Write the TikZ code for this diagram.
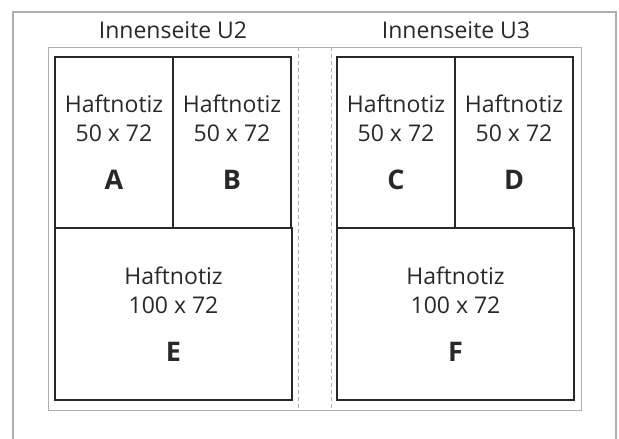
\documentclass[tikz,border=0pt]{standalone}
\usepackage{fontspec}
\setmainfont{Open Sans}
\usetikzlibrary{positioning}
\definecolor{framegray}{RGB}{175,175,175}
\definecolor{notegray}{RGB}{40,40,40}

\newcommand{\noteletter}[1]{{\fontsize{27}{30}\selectfont\bfseries #1}}

\begin{document}
\begin{tikzpicture}[x=1pt,y=-1pt,
            note node/.style={rectangle,draw=notegray,line width=1.6pt,inner sep=0pt,outer sep=0pt,
                              align=center,text=notegray,font=\fontsize{23}{29}\selectfont},
            small note/.style={note node,minimum width=118pt,minimum height=171pt},
            wide note/.style={note node,minimum width=237pt,minimum height=172pt},
            spread node/.style={rectangle,draw=framegray,line width=1.3pt,inner sep=0pt,
                                minimum width=533pt,minimum height=363pt},
            title node/.style={text=notegray,font=\fontsize{23}{26}\selectfont},
            spine/.style={draw=framegray,line width=1pt,dash pattern=on 4pt off 3pt}
            ]
            \useasboundingbox (0,0) rectangle (619,439);

            % outer frame, open at the bottom
            \draw[framegray,line width=1.5pt] (13,440) -- (13,12) -- (616,12) -- (616,440);

            % the spread with its two spine lines
            \node[spread node,anchor=north west](spread) at (48,47) {};
            \coordinate (spine l top) at (298,47);
            \coordinate (spine l bot) at (298,410);
            \coordinate (spine r top) at (331,47);
            \coordinate (spine r bot) at (331,410);
            \draw[spine] (spine l top) -- (spine l bot);
            \draw[spine] (spine r top) -- (spine r bot);

            \node[title node](u2) at (173,30) {Innenseite U2};
            \node[title node](u3) at (456,30) {Innenseite U3};

            % left page
            \node[small note,anchor=north west](A) at (55,57) {Haftnotiz\\50 x 72\\[19pt]\noteletter{A}};
            \node[small note](B)[right=0pt of A] {Haftnotiz\\50 x 72\\[19pt]\noteletter{B}};
            \node[wide note,anchor=north west](E) at (A.south west) {Haftnotiz\\100 x 72\\[19pt]\noteletter{E}};

            % right page
            \node[small note,anchor=north west](C) at (337,57) {Haftnotiz\\50 x 72\\[19pt]\noteletter{C}};
            \node[small note](D)[right=0pt of C] {Haftnotiz\\50 x 72\\[19pt]\noteletter{D}};
            \node[wide note,anchor=north west](F) at (C.south west) {Haftnotiz\\100 x 72\\[19pt]\noteletter{F}};

        \end{tikzpicture}
\end{document}
